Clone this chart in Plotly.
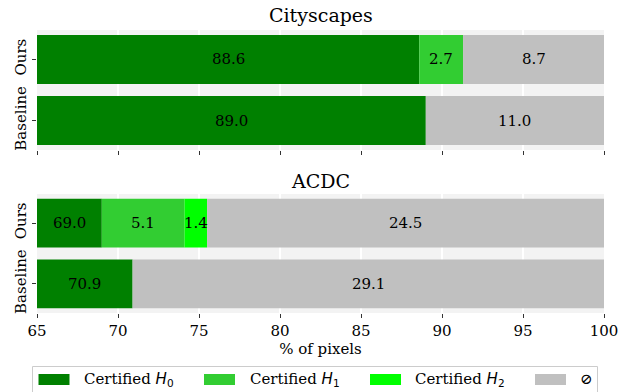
import plotly.graph_objects as go

# Rows of each panel (bottom to top) and the pixel classes stacked in each bar
rows = ["Baseline", "Ours"]
class_names = ["H0", "H1", "H2", "none"]
class_colors = ["#008000", "#32cd32", "#00ff00", "#c0c0c0"]
legend_labels = [
    "Certified <span style='font-family:DejaVu Sans'><i>H</i><sub>0</sub></span>",
    "Certified <span style='font-family:DejaVu Sans'><i>H</i><sub>1</sub></span>",
    "Certified <span style='font-family:DejaVu Sans'><i>H</i><sub>2</sub></span>",
    "⊘",
]

# Cityscapes (% of pixels) per row: [Baseline, Ours]
cityscapes_h0 = [89.0, 88.6]
cityscapes_h1 = [0.0, 2.7]
cityscapes_h2 = [0.0, 0.0]
cityscapes_none = [11.0, 8.7]

# ACDC (% of pixels) per row: [Baseline, Ours]
acdc_h0 = [70.9, 69.0]
acdc_h1 = [0.0, 5.1]
acdc_h2 = [0.0, 1.4]
acdc_none = [29.1, 24.5]

x_ticks = [65, 70, 75, 80, 85, 90, 95, 100]
x_min, x_max = 65, 100

panels = [
    ("Cityscapes", [cityscapes_h0, cityscapes_h1, cityscapes_h2, cityscapes_none], "x", "y"),
    ("ACDC", [acdc_h0, acdc_h1, acdc_h2, acdc_none], "x2", "y2"),
]

FONT = "DejaVu Serif"
W, H = 625, 392
ML, MR, MT, MB = 37, 21, 30, 79
plot_w = W - ML - MR
plot_h = H - MT - MB


def px_to_paper_x(px):
    return (px - ML) / plot_w


def px_to_paper_y(py):
    return (H - MB - py) / plot_h


fig = go.Figure()
annotations = []

for title, series, xref, yref in panels:
    cum = [0.0] * len(rows)
    for values, color in zip(series, class_colors):
        fig.add_trace(go.Bar(
            y=rows, x=values, orientation="h", base=cum[:],
            marker=dict(color=color, line=dict(width=0)),
            width=0.8, xaxis=xref, yaxis=yref, showlegend=False,
            hoverinfo="x+y",
        ))
        for i, v in enumerate(values):
            if v > 0:
                start, end = cum[i], cum[i] + v
                annotations.append(dict(
                    x=(max(start, x_min) + end) / 2, y=rows[i],
                    xref=xref, yref=yref, text=f"{v:.1f}", showarrow=False,
                    font=dict(family=FONT, size=15, color="black"),
                    xanchor="center", yanchor="middle",
                ))
        cum = [c + v for c, v in zip(cum, values)]

# Panel titles
annotations.append(dict(x=0.5, y=px_to_paper_y(15), xref="paper", yref="paper",
                        text="Cityscapes", showarrow=False, xanchor="center",
                        yanchor="middle", font=dict(family=FONT, size=19, color="black")))
annotations.append(dict(x=0.5, y=px_to_paper_y(181), xref="paper", yref="paper",
                        text="ACDC", showarrow=False, xanchor="center",
                        yanchor="middle", font=dict(family=FONT, size=19, color="black")))

# Legend drawn below the axes
shapes = [dict(type="rect", xref="paper", yref="paper",
               x0=px_to_paper_x(32.5), x1=px_to_paper_x(597.5),
               y0=px_to_paper_y(366.5), y1=px_to_paper_y(410),
               line=dict(color="#cccccc", width=1), fillcolor="white", layer="below")]
patch_left = [38.5, 204, 370, 535]
text_left = [81.5, 247.5, 413, 578]
for pl, tl, color, label in zip(patch_left, text_left, class_colors, legend_labels):
    shapes.append(dict(type="rect", xref="paper", yref="paper",
                       x0=px_to_paper_x(pl), x1=px_to_paper_x(pl + 31),
                       y0=px_to_paper_y(374), y1=px_to_paper_y(385),
                       line=dict(width=0), fillcolor=color))
    annotations.append(dict(x=px_to_paper_x(tl), y=px_to_paper_y(379.5),
                            xref="paper", yref="paper", text=label, showarrow=False,
                            xanchor="left", yanchor="middle",
                            font=dict(family=FONT, size=15, color="black")))

xaxis_common = dict(
    range=[x_min, x_max], tickvals=x_ticks, ticks="outside", ticklen=4,
    tickcolor="#333333", tickwidth=1, showgrid=True, gridcolor="white", gridwidth=1.5,
    zeroline=False, showline=False, automargin=False,
    tickfont=dict(family=FONT, size=15, color="black"),
)
yaxis_common = dict(
    type="category", categoryorder="array", categoryarray=rows,
    range=[-0.48, 1.48], ticks="outside", ticklen=4, tickcolor="#333333",
    showgrid=False, zeroline=False, showline=False, tickangle=-90, automargin=False,
    tickfont=dict(family=FONT, size=15, color="black"),
)

top_domain = [px_to_paper_y(150), 1.0]
bottom_domain = [0.0, px_to_paper_y(194)]

fig.update_layout(
    width=W, height=H,
    margin=dict(l=ML, r=MR, t=MT, b=MB),
    paper_bgcolor="white", plot_bgcolor="#f3f3f3",
    barmode="overlay", bargap=0.2,
    font=dict(family=FONT, size=15, color="black"),
    xaxis=dict(**xaxis_common, anchor="y", domain=[0, 1], showticklabels=False),
    yaxis=dict(**yaxis_common, anchor="x", domain=top_domain),
    xaxis2=dict(**xaxis_common, anchor="y2", domain=[0, 1], showticklabels=True,
                title=dict(text="% of pixels", standoff=4,
                           font=dict(family=FONT, size=15, color="black"))),
    yaxis2=dict(**yaxis_common, anchor="x2", domain=bottom_domain),
    annotations=annotations,
    shapes=shapes,
    showlegend=False,
)

fig.write_html("out.html")
